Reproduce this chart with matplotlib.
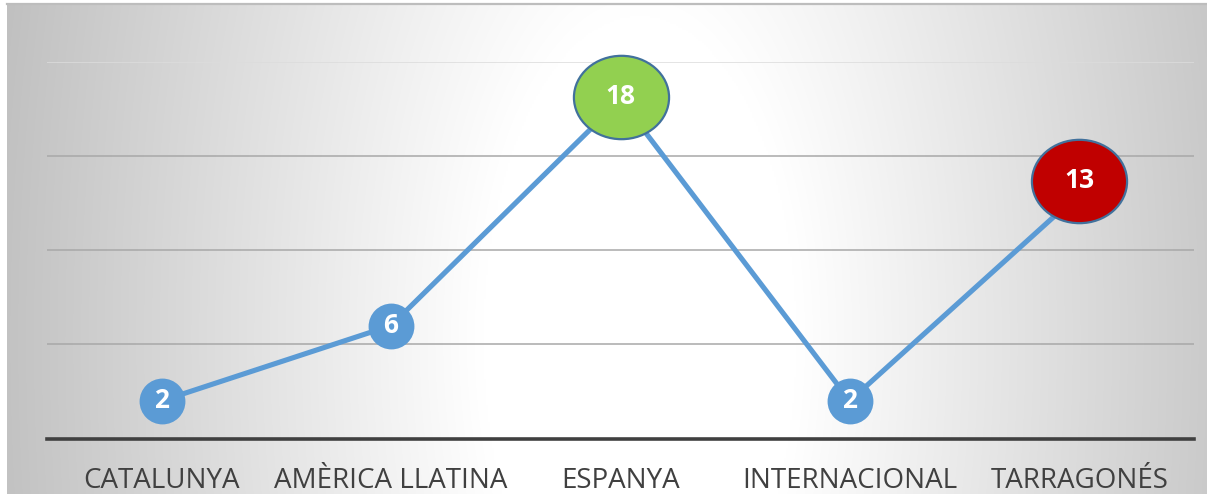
import numpy as np
import matplotlib
matplotlib.use("Agg")
import matplotlib.pyplot as plt
from matplotlib.path import Path
from matplotlib.markers import MarkerStyle
from matplotlib.lines import Line2D
import matplotlib.transforms as mtransforms

# ---- data ----
categories = ["CATALUNYA", "AMÈRICA LLATINA", "ESPANYA", "INTERNACIONAL", "TARRAGONÉS"]
values = [2, 6, 18, 2, 13]
highlight_colors = {2: "#92D050", 4: "#C00000"}  # index -> fill colour
highlight_offset_px = {2: 3, 4: 13}               # shape drawn slightly above point
y_ticks = [0, 5, 10, 15, 20]

W, H = 1207, 494
fig = plt.figure(figsize=(W / 100, H / 100), dpi=100, facecolor="white")

# ---- background panel with radial-ish gradient ----
px0, py_top = 7, 4
bg = fig.add_axes([px0 / W, 0, 1 - px0 / W, (H - py_top) / H], zorder=0)
bg.set_axis_off()
nx, ny = 600, 250
xs = np.linspace(px0, W, nx)
ys = np.linspace(py_top, H, ny)
XX, YY = np.meshgrid(xs, ys)
cx, cy = 640, 340
rx, ry = 630, 1300
d = np.sqrt(((XX - cx) / rx) ** 2 + ((YY - cy) / ry) ** 2)
g = 1 - 0.235 * np.clip((d - 0.25) / 0.75, 0, 1.3)
img = np.dstack([g, g, g])
bg.imshow(img, aspect="auto", extent=[0, 1, 0, 1], origin="upper", interpolation="bilinear")
bg.set_xlim(0, 1)
bg.set_ylim(0, 1)
fig.add_artist(Line2D([px0 / W, 1], [1 - py_top / H, 1 - py_top / H],
                      transform=fig.transFigure, color="#bdbdbd", lw=1.6, zorder=1))

# ---- main axes ----
left, right = 47 / W, 1194 / W
bottom = (H - 438.5) / H
top = (H - 62) / H
ax = fig.add_axes([left, bottom, right - left, top - bottom], zorder=2)
ax.patch.set_alpha(0)
x = np.arange(len(categories))
ax.set_xlim(-0.5, len(categories) - 0.5)
ax.set_ylim(0, 20)
for s in ["top", "right", "left"]:
    ax.spines[s].set_visible(False)
ax.spines["bottom"].set_color("#404040")
ax.spines["bottom"].set_linewidth(2.6)
ax.spines["bottom"].set_zorder(3)
ax.set_yticks([])
ax.set_xticks([])
for t in y_ticks[1:]:
    col = "#dcdcdc" if t == y_ticks[-1] else "#a8a8a8"
    ax.axhline(t, color=col, lw=1.1, zorder=1)

line_color = "#5B9BD5"
ax.plot(x, values, color=line_color, lw=3.7, zorder=4, solid_capstyle="butt")

# markers
circle = Path.unit_circle()
ell_path = circle.transformed(mtransforms.Affine2D().scale(1.0, 85 / 97))
ell_marker = MarkerStyle(ell_path)
for i, v in enumerate(values):
    off = highlight_offset_px.get(i, 0)
    tr = ax.transData + mtransforms.ScaledTranslation(0, off / 100, fig.dpi_scale_trans)
    if i in highlight_colors:
        ax.plot([x[i]], [v], marker=ell_marker, markersize=68.5,
                markerfacecolor=highlight_colors[i], markeredgecolor="#41719C",
                markeredgewidth=1.6, linestyle="none", zorder=5, clip_on=False,
                transform=tr)
    else:
        ax.plot([x[i]], [v], marker="o", markersize=33,
                markerfacecolor=line_color, markeredgecolor=line_color,
                markeredgewidth=0, linestyle="none", zorder=5, clip_on=False)
    ax.text(x[i], v, str(v), color="white", fontsize=19, fontweight="bold",
            family=["Open Sans", "DejaVu Sans"], ha="center", va="center",
            zorder=6, clip_on=False, transform=tr)

# category labels
trans = mtransforms.blended_transform_factory(ax.transData, ax.transAxes)
for i, c in enumerate(categories):
    ax.text(x[i], -(488 - 438.5) / (438.5 - 62), c, transform=trans,
            ha="center", va="baseline", fontsize=20, color="#404040",
            family=["Open Sans", "DejaVu Sans"], clip_on=False)

fig.savefig("out.png", dpi=100)
